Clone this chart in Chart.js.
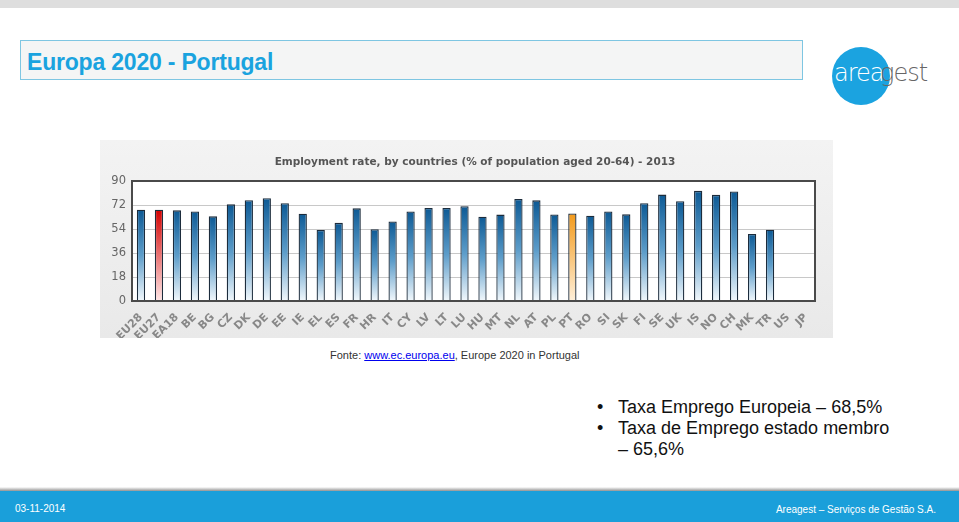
<!DOCTYPE html>
<html><head><meta charset="utf-8">
<script src="https://cdn.jsdelivr.net/npm/chart.js@4"></script>
<style>
body{margin:0;width:959px;height:522px;overflow:hidden;background:#fff;font-family:"Liberation Sans",Arial,sans-serif;position:relative}
.topband{position:absolute;left:0;top:0;width:959px;height:8px;background:#dedede}
.titlebox{position:absolute;left:20px;top:40px;width:781px;height:38px;border:1px solid #7ec6e2;background:#f4f5f5}
.titlebox span{position:absolute;left:6px;top:8px;font-weight:bold;font-size:23px;color:#1aa3df;letter-spacing:-0.2px}
.logo{position:absolute;left:832px;top:47px;width:58px;height:58px;border-radius:50%;background:#1ba3e0}
.logo1{position:absolute;left:834px;top:59px;font-size:24px;color:#fff;font-family:"DejaVu Sans",sans-serif;font-weight:200;letter-spacing:-1px}
.logo2{position:absolute;left:880px;top:59px;font-size:24px;color:#666;font-family:"DejaVu Sans",sans-serif;font-weight:200;letter-spacing:-1px}
.panel{position:absolute;left:100px;top:140px;width:733px;height:198px;background:linear-gradient(#f3f3f3,#e9e9e9)}
.ctitle{position:absolute;left:100px;top:155px;width:750px;text-align:center;font-family:"DejaVu Sans",sans-serif;font-weight:bold;font-size:10.5px;color:#555}
#c{position:absolute;left:100px;top:140px}
.fonte{position:absolute;left:330px;top:349px;font-size:11px;color:#333}
.fonte a{color:#0000ee;text-decoration:underline}
.bul{position:absolute;left:597px;font-size:18px;color:#111}
.bul b{font-weight:normal;position:absolute;left:0}
.bul span{position:absolute;left:21px;white-space:nowrap}
.footshadow{position:absolute;left:0;top:487px;width:959px;height:5px;background:linear-gradient(#fff,#777)}
.footer{position:absolute;left:0;top:491px;width:959px;height:31px;background:#1a9fda}
.date{position:absolute;left:15px;top:503px;font-size:10px;color:#fff}
.comp{position:absolute;right:23px;top:504px;font-size:10px;color:#fff}
</style></head>
<body>
<div class="topband"></div>
<div class="titlebox"><span>Europa 2020 - Portugal</span></div>
<div class="logo"></div>
<div class="logo1">area</div><div class="logo2">gest</div>
<div class="panel"></div>
<canvas id="c" width="733" height="198"></canvas>
<div class="ctitle">Employment rate, by countries (% of population aged 20-64) - 2013</div>
<div class="fonte">Fonte: <a>www.ec.europa.eu</a>, Europe 2020 in Portugal</div>
<div class="bul" style="top:397px"><b>•</b><span>Taxa Emprego Europeia – 68,5%</span></div>
<div class="bul" style="top:418px"><b>•</b><span>Taxa de Emprego estado membro</span></div>
<div class="bul" style="top:439px"><span>– 65,6%</span></div>
<div class="footshadow"></div>
<div class="footer"></div>
<div class="date">03-11-2014</div>
<div class="comp">Areagest – Serviços de Gestão S.A.</div>
<script>
const countries = ["EU28","EU27","EA18","BE","BG","CZ","DK","DE","EE","IE","EL","ES","FR","HR","IT","CY","LV","LT","LU","HU","MT","NL","AT","PL","PT","RO","SI","SK","FI","SE","UK","IS","NO","CH","MK","TR","US","JP"];
const employmentRate = [68.4,68.5,68.0,67.2,63.5,72.5,75.6,77.1,73.3,65.5,53.2,58.6,69.5,53.9,59.7,67.2,69.7,69.7,71.1,63.2,64.8,76.5,75.5,64.9,65.6,63.9,67.2,65.0,73.3,79.8,74.9,82.6,79.6,82.1,50.3,53.4,null,null];
const yTicks = [0,18,36,54,72,90];
const highlight = {"EU27":["#d40000","#ffe6e6"],"PT":["#f39a1a","#fff0da"]};

function grad(ctx){
  const chart = ctx.chart;
  if(!chart.chartArea) return "#1a6aa5";
  const v = ctx.raw; if(v==null) return "transparent";
  const y = chart.scales.y;
  const top = y.getPixelForValue(v), bot = y.getPixelForValue(0);
  const g = chart.ctx.createLinearGradient(0,top,0,bot);
  const c = highlight[countries[ctx.dataIndex]];
  if(c){g.addColorStop(0,c[0]);g.addColorStop(1,c[1]);}
  else{g.addColorStop(0,"#0d5a95");g.addColorStop(0.5,"#5d9dca");g.addColorStop(1,"#f2f8fc");}
  return g;
}
new Chart(document.getElementById("c"),{
  type:"bar",
  data:{labels:countries,datasets:[{data:employmentRate,backgroundColor:grad,borderColor:"#1c2c3c",borderWidth:1.3,barPercentage:0.46,categoryPercentage:1}]},
  options:{
    responsive:false,animation:false,
    layout:{padding:{top:41,right:18,left:0,bottom:0}},
    plugins:{legend:{display:false},tooltip:{enabled:false}},
    scales:{
      y:{min:0,max:90,afterBuildTicks:s=>{s.ticks=yTicks.map(v=>({value:v}));},
        afterFit:s=>{s.width=32;},
        border:{display:true,color:"#4a4a4a",width:2},
        grid:{color:"#c8c8c8",drawTicks:false},
        ticks:{padding:6,color:"#666",font:{family:"Verdana, DejaVu Sans",size:11.5}}},
      x:{afterFit:s=>{s.height=37;},
        border:{display:true,color:"#4a4a4a",width:2},
        grid:{display:false},
        ticks:{minRotation:45,maxRotation:45,autoSkip:false,padding:2,color:"#888",font:{family:"Verdana, DejaVu Sans",size:11,weight:"bold"}}}
    }
  },
  plugins:[{id:"frame",afterDraw(chart){const a=chart.chartArea,c=chart.ctx;c.save();c.strokeStyle="#4a4a4a";c.lineWidth=2;c.strokeRect(a.left,a.top,a.right-a.left,a.bottom-a.top);c.restore();},
    beforeDraw(chart){const a=chart.chartArea,c=chart.ctx;c.save();c.fillStyle="#fff";c.fillRect(a.left,a.top,a.right-a.left,a.bottom-a.top);c.restore();}}]
});
</script>
</body></html>
